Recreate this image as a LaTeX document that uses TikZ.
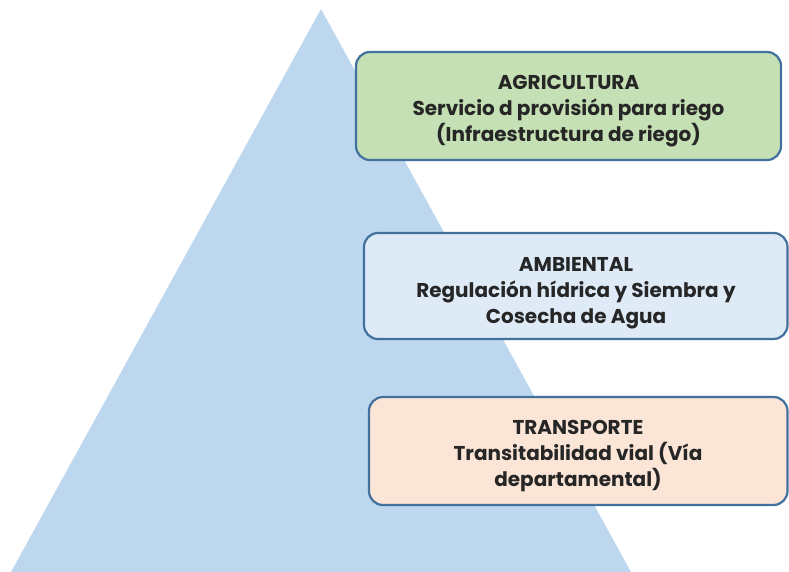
\documentclass[tikz,border=0pt]{standalone}
\usepackage{fontspec}
\setmainfont{Poppins}[UprightFont=*-Regular,BoldFont=*-Bold]
\begin{document}
\begin{tikzpicture}[x=1pt,y=-1pt,
  box/.style={draw=boxline,line width=2.2pt,rounded corners=14pt},
  lbl/.style={align=center,font=\fontsize{20}{26}\selectfont\bfseries,text=txt}]
\definecolor{tri}{HTML}{BDD7EE}
\definecolor{boxline}{HTML}{41719C}
\definecolor{gbox}{HTML}{C5E0B4}
\definecolor{bbox}{HTML}{DEEBF7}
\definecolor{obox}{HTML}{FBE5D6}
\definecolor{txt}{HTML}{262626}
\useasboundingbox (0,0) rectangle (789,572);
\coordinate (apex) at (321,9);
\coordinate (bl) at (11,572);
\coordinate (br) at (631,572);
\fill[tri] (apex) -- (bl) -- (br) -- cycle;
\draw[box,fill=gbox] (356,52) rectangle (781,160);
\draw[box,fill=bbox] (364,233) rectangle (787.5,339);
\draw[box,fill=obox] (369,397) rectangle (787.5,505);
\node[lbl] (agri) at (568.5,111) {AGRICULTURA\\Servicio d provisión para riego\\(Infraestructura de riego)};
\node[lbl] (amb) at (576,293) {AMBIENTAL\\Regulación hídrica y Siembra y\\Cosecha de Agua};
\node[lbl] (tra) at (578,456) {TRANSPORTE\\Transitabilidad vial (Vía\\departamental)};
\end{tikzpicture}
\end{document}
